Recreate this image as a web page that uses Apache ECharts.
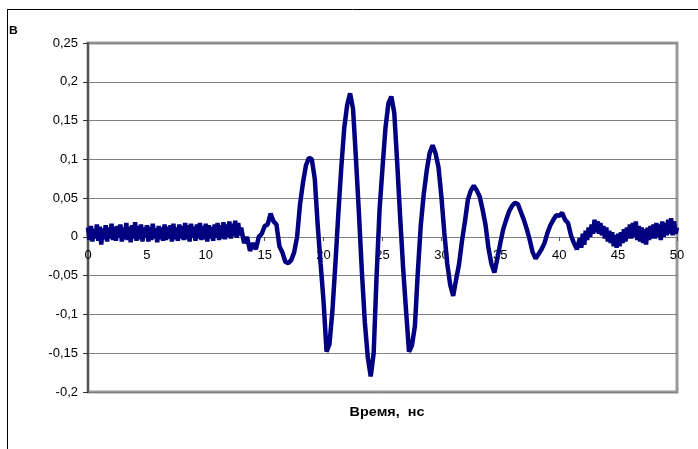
<!DOCTYPE html>
<html>
<head>
<meta charset="utf-8">
<script src="https://cdn.jsdelivr.net/npm/echarts@6/dist/echarts.min.js"></script>
<style>
html,body{margin:0;padding:0;background:#fff;}
#chart{width:698px;height:449px;}
</style>
</head>
<body>
<div id="chart"></div>
<script>
// Segment 1: quiet lead-in, t = 0 .. 12.875 ns every 0.125 ns (V)
const leadStart = 0, leadStep = 0.125;
const leadValues = [
 0.012,-0.004,0.014,-0.006,0.010,-0.002,0.016,-0.005,
 0.013,-0.010,0.011,-0.003,0.015,-0.006,0.012,-0.002,
 0.017,-0.004,0.013,-0.005,0.014,-0.001,0.016,-0.006,
 0.012,-0.003,0.018,-0.004,0.013,-0.007,0.015,-0.002,
 0.019,-0.005,0.014,-0.003,0.016,-0.006,0.012,-0.001,
 0.015,-0.006,0.013,-0.004,0.017,-0.002,0.011,-0.007,
 0.014,-0.003,0.012,-0.005,0.016,-0.004,0.013,-0.002,
 0.015,-0.006,0.017,-0.003,0.012,-0.005,0.016,-0.002,
 0.014,-0.004,0.018,-0.003,0.015,-0.006,0.017,-0.001,
 0.013,-0.005,0.016,-0.002,0.018,-0.004,0.014,-0.003,
 0.017,-0.006,0.015,-0.002,0.013,-0.005,0.016,-0.001,
 0.018,-0.004,0.015,-0.002,0.019,-0.003,0.016,0.000,
 0.020,-0.002,0.017,0.001,0.021,-0.001,0.018,0.002
];
// Segment 2: pulse, t = 13 .. 41.5 ns every 0.25 ns (V)
const pulseStart = 13, pulseStep = 0.25;
const pulseValues = [
 0.012,-0.008,0.000,-0.018,-0.008,-0.016,0.000,0.004,0.014,0.016,
 0.030,0.020,0.016,-0.012,-0.020,-0.032,-0.034,-0.030,-0.020,0.000,
 0.042,0.070,0.092,0.102,0.100,0.075,0.015,-0.035,-0.084,-0.148,
 -0.138,-0.095,-0.035,0.030,0.089,0.140,0.170,0.185,0.165,0.100,
 0.030,-0.045,-0.110,-0.155,-0.180,-0.150,-0.050,0.035,0.089,0.140,
 0.172,0.181,0.160,0.095,0.025,-0.040,-0.095,-0.148,-0.140,-0.115,
 -0.045,0.015,0.055,0.085,0.108,0.118,0.108,0.090,0.052,0.005,
 -0.035,-0.062,-0.076,-0.055,-0.035,-0.005,0.020,0.048,0.060,0.066,
 0.060,0.052,0.035,0.015,-0.015,-0.035,-0.046,-0.028,-0.008,0.010,
 0.022,0.033,0.040,0.044,0.042,0.032,0.022,0.010,-0.004,-0.020,
 -0.028,-0.022,-0.016,-0.008,0.005,0.015,0.022,0.028,0.027,0.031,
 0.022,0.018,0.002,-0.008,-0.016
];
// Segment 3: tail, t = 41.75 .. 50 ns every 0.125 ns (V)
const tailStart = 41.75, tailStep = 0.125;
const tailValues = [
 -0.002,-0.014,
 0.004,-0.010,0.008,-0.004,0.012,0.000,0.016,0.004,
 0.022,0.006,0.020,0.004,0.018,0.002,0.014,-0.002,
 0.012,-0.006,0.008,-0.008,0.006,-0.012,0.002,-0.014,
 0.004,-0.012,0.006,-0.008,0.010,-0.006,0.012,-0.002,
 0.016,-0.002,0.018,0.000,0.020,-0.004,0.014,-0.006,
 0.012,-0.008,0.010,-0.010,0.012,-0.004,0.014,-0.002,
 0.016,-0.002,0.018,0.000,0.016,-0.004,0.020,0.000,
 0.018,0.002,0.022,0.004,0.024,0.002,0.020,0.004,
 0.012
];
const yAxisLabel = 'В';
const xAxisTitle = 'Время,  нс';

const seg = (t0, dt, vals) => vals.map((v, i) => [t0 + i * dt, v]);
const seriesData = [].concat(
  seg(leadStart, leadStep, leadValues),
  seg(pulseStart, pulseStep, pulseValues),
  seg(tailStart, tailStep, tailValues)
);
const fmt = v => String(Math.round(v * 100) / 100).replace('.', ',');

const chart = echarts.init(document.getElementById('chart'), null, {renderer: 'canvas'});
chart.setOption({
  animation: false,
  backgroundColor: '#fff',
  textStyle: {fontFamily: 'Liberation Sans, Arial, sans-serif'},
  grid: {left: 88, right: 21, top: 43, bottom: 57, show: true, borderColor: '#999', borderWidth: 3, backgroundColor: 'transparent'},
  xAxis: {
    type: 'value', min: 0, max: 50, interval: 5,
    position: 'bottom', offset: -155,
    axisLine: {onZero: false, lineStyle: {color: '#808080', width: 1}},
    axisTick: {show: true, inside: false, length: 4, lineStyle: {color: '#555'}},
    axisLabel: {margin: 12, color: '#000', fontSize: 13, fontFamily: 'Liberation Sans'},
    splitLine: {show: false}
  },
  yAxis: {
    type: 'value', min: -0.2, max: 0.25, interval: 0.05,
    axisLine: {show: true, lineStyle: {color: '#555', width: 2}},
    axisTick: {show: true, length: 5, lineStyle: {color: '#333'}},
    axisLabel: {margin: 10, color: '#000', fontSize: 13, fontFamily: 'Liberation Sans', formatter: fmt},
    splitLine: {show: true, lineStyle: {color: '#808080', width: 1}}
  },
  graphic: [
    {type: 'line', shape: {x1: 7, y1: 9.5, x2: 698, y2: 9.5}, style: {stroke: '#000', lineWidth: 1}, silent: true},
    {type: 'line', shape: {x1: 7.5, y1: 9, x2: 7.5, y2: 449}, style: {stroke: '#000', lineWidth: 1}, silent: true},
    {type: 'text', x: 9, y: 31, scaleX: 1.1, style: {text: yAxisLabel, font: 'bold 11px Liberation Sans', fill: '#000', textVerticalAlign: 'middle'}},
    {type: 'text', x: 387, y: 413, scaleX: 1.2, style: {text: xAxisTitle, font: 'bold 12px Liberation Sans', fill: '#000', textAlign: 'center', textVerticalAlign: 'middle'}}
  ],
  series: [{
    type: 'line', data: seriesData, showSymbol: false, smooth: false,
    lineStyle: {color: '#000080', width: 4.5}
  }]
});
</script>
</body>
</html>
